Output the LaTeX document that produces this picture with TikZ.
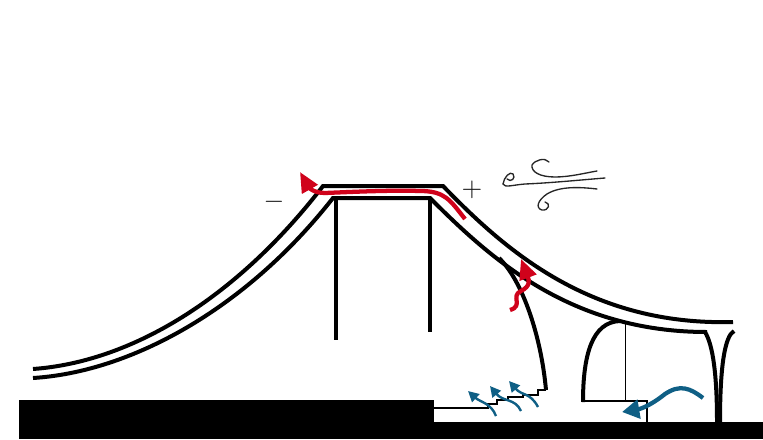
\documentclass[tikz,border=0pt]{standalone}
\usetikzlibrary{arrows.meta}
\definecolor{redflow}{HTML}{D0021B}
\definecolor{blueflow}{HTML}{0F5F85}
\tikzset{
  px/.style={x=0.75pt,y=-0.75pt},
  thick line/.style={draw=black,line width=3pt,line join=miter,line cap=butt},
  mid line/.style={draw=black,line width=1.5pt},
  thin line/.style={draw=black,line width=0.7pt},
  wind/.style={draw=black!85,line width=1pt,line cap=round},
  red flow/.style={draw=redflow,line width=3.2pt,-{Triangle[length=15pt,width=13pt,fill=redflow]}},
  blue big/.style={draw=blueflow,line width=3.2pt,-{Triangle[length=13pt,width=14pt,fill=blueflow]}},
  blue small/.style={draw=blueflow,line width=1.8pt,-{Triangle[length=8pt,width=8pt,fill=blueflow]}},
  sign/.style={inner sep=0pt,text=black!90,scale=2}
}
\begin{document}
\begin{tikzpicture}[px]
\useasboundingbox (0,0) rectangle (763,439);
% ground
\fill[black] (19,400) rectangle (434,439);
\fill[black] (434,422) rectangle (763,439);
% roof outer
\draw[thick line] (33,369) .. controls (130,362) and (235,300) .. (323,186) -- (443,186) .. controls (505,250) and (590,326) .. (733,322);
% roof inner
\draw[thick line] (33,378) .. controls (130,372) and (245,310) .. (333,198) -- (430,198) .. controls (490,258) and (570,332) .. (707,332);
% columns
\draw[thick line] (336,198) -- (336,340);
\draw[thick line] (430,198) -- (430,332);
% curved wall
\draw[thick line] (499,258) .. controls (522,280) and (541,335) .. (546,390);
% steps
\draw[mid line] (546,389.5) -- (538,389.5) -- (538,394.5) -- (523,394.5) -- (523,397) -- (508,397) -- (508,400) -- (497,400) -- (497,404) -- (488,404) -- (488,408) -- (434,408);
% arch room
\draw[thick line] (583,402) .. controls (583,355) and (592,322) .. (620,321);
\draw[thin line] (625,322) -- (625,401);
\draw[mid line] (582,401) -- (647,401) -- (647,422);
% right column flare
\draw[thick line] (705,332) .. controls (713,345) and (717,375) .. (717,422);
\draw[thick line] (734,331) .. controls (725,336) and (720,365) .. (720,422);
% red flows
\draw[red flow] (465,219) .. controls (450,200) and (445,191) .. (420,191) .. controls (390,190) and (350,192) .. (325,193) .. controls (312,193) and (308,186) .. (300,172);
\draw[red flow] (510,310) .. controls (524,306) and (510,296) .. (521,291) .. controls (531,286) and (529,280) .. (521,259);
% blue flows
\draw[blue big] (703,398) .. controls (690,388) and (680,384) .. (665,394) .. controls (650,406) and (640,409) .. (622,412);
\draw[blue small] (496,416) .. controls (491,403) and (480,402) .. (468,391);
\draw[blue small] (521,411) .. controls (515,398) and (503,402) .. (490,386);
\draw[blue small] (538,407) .. controls (530,392) and (522,396) .. (509,381);
% wind
\draw[wind] (503,184) .. controls (504,177) and (510,171) .. (513,174) .. controls (516,178) and (511,183) .. (507,179);
\draw[wind] (503,184) .. controls (505,188) and (512,185) .. (525,184) .. controls (550,183) and (580,180) .. (605,178);
\draw[wind] (549,162) .. controls (545,157) and (535,160) .. (532,165) .. controls (531,172) and (540,177) .. (555,177) .. controls (570,177) and (585,173) .. (597,171);
\draw[wind] (597,189) .. controls (580,187) and (560,186) .. (547,194) .. controls (538,200) and (535,208) .. (542,210) .. controls (549,211) and (551,203) .. (545,202);
% signs
\node[sign] (plus) at (472,190) {$+$};
\node[sign] (minus) at (274,202) {$-$};
\end{tikzpicture}
\end{document}
